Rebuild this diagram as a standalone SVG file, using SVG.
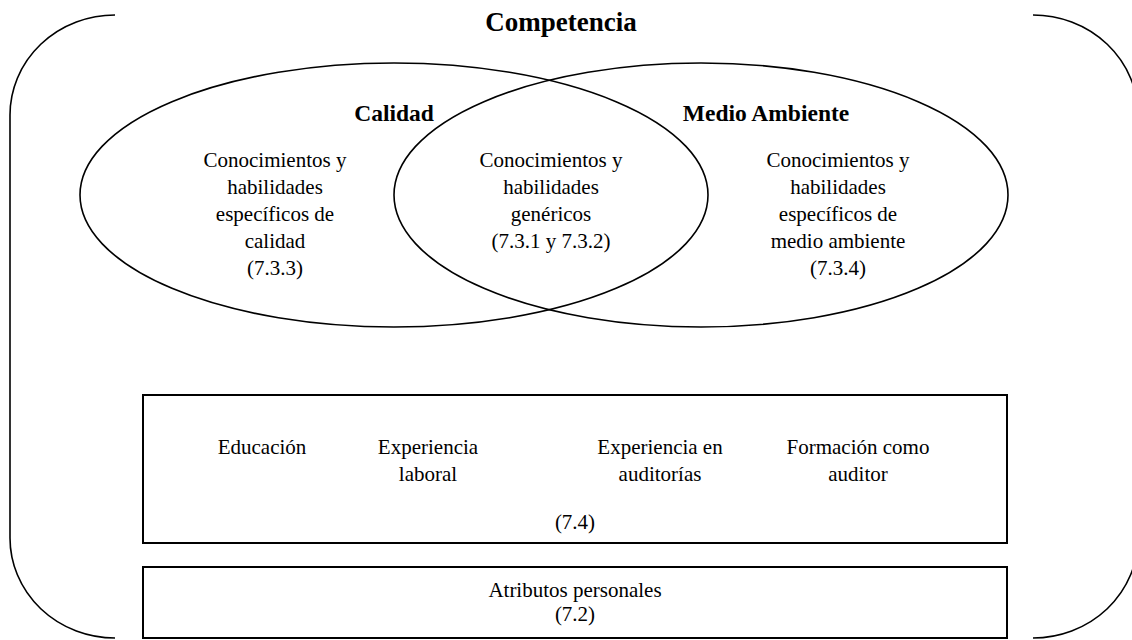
<svg xmlns="http://www.w3.org/2000/svg" width="1132" height="640" viewBox="0 0 1132 640">
<style>
.ln{fill:none;stroke:#000;stroke-width:1.6}
.bx{fill:none;stroke:#000;stroke-width:2}
text{font-family:'Liberation Serif','DejaVu Serif',serif;font-size:21px;fill:#000;text-anchor:middle}
.b{font-weight:bold;font-size:23.5px}
</style>
<rect width="1132" height="640" fill="#fff"/>
<g id="outer">
<path class="ln" d="M115,15 A105,100 0 0 0 10,115 L10,538 A105,100 0 0 0 115,638"/>
<path class="ln" d="M1033,15 A105,100 0 0 1 1138,115 L1138,538 A105,100 0 0 1 1033,638"/>
<text class="b" x="561" y="31" style="font-size:27px">Competencia</text>
</g>
<g id="calidad">
<ellipse class="ln" cx="394" cy="195" rx="314" ry="132"/>
<text class="b" x="394" y="121">Calidad</text>
<text x="275" y="167">Conocimientos y</text>
<text x="275" y="194">habilidades</text>
<text x="275" y="221">específicos de</text>
<text x="275" y="248">calidad</text>
<text x="275" y="275">(7.3.3)</text>
</g>
<g id="medio">
<ellipse class="ln" cx="701" cy="195" rx="307" ry="132"/>
<text class="b" x="766" y="121">Medio Ambiente</text>
<text x="838" y="167">Conocimientos y</text>
<text x="838" y="194">habilidades</text>
<text x="838" y="221">específicos de</text>
<text x="838" y="248">medio ambiente</text>
<text x="838" y="275">(7.3.4)</text>
</g>
<g id="generico">
<text x="551" y="167">Conocimientos y</text>
<text x="551" y="194">habilidades</text>
<text x="551" y="221">genéricos</text>
<text x="551" y="248">(7.3.1 y 7.3.2)</text>
</g>
<g id="box74">
<rect class="bx" x="143" y="395" width="864" height="148"/>
<text x="262" y="454">Educación</text>
<text x="428" y="454">Experiencia</text>
<text x="428" y="481">laboral</text>
<text x="660" y="454">Experiencia en</text>
<text x="660" y="481">auditorías</text>
<text x="858" y="454">Formación como</text>
<text x="858" y="481">auditor</text>
<text x="575" y="529">(7.4)</text>
</g>
<g id="box72">
<rect class="bx" x="143" y="567" width="864" height="71"/>
<text x="575" y="597">Atributos personales</text>
<text x="575" y="621">(7.2)</text>
</g>
<g id="connectors"></g>
</svg>
